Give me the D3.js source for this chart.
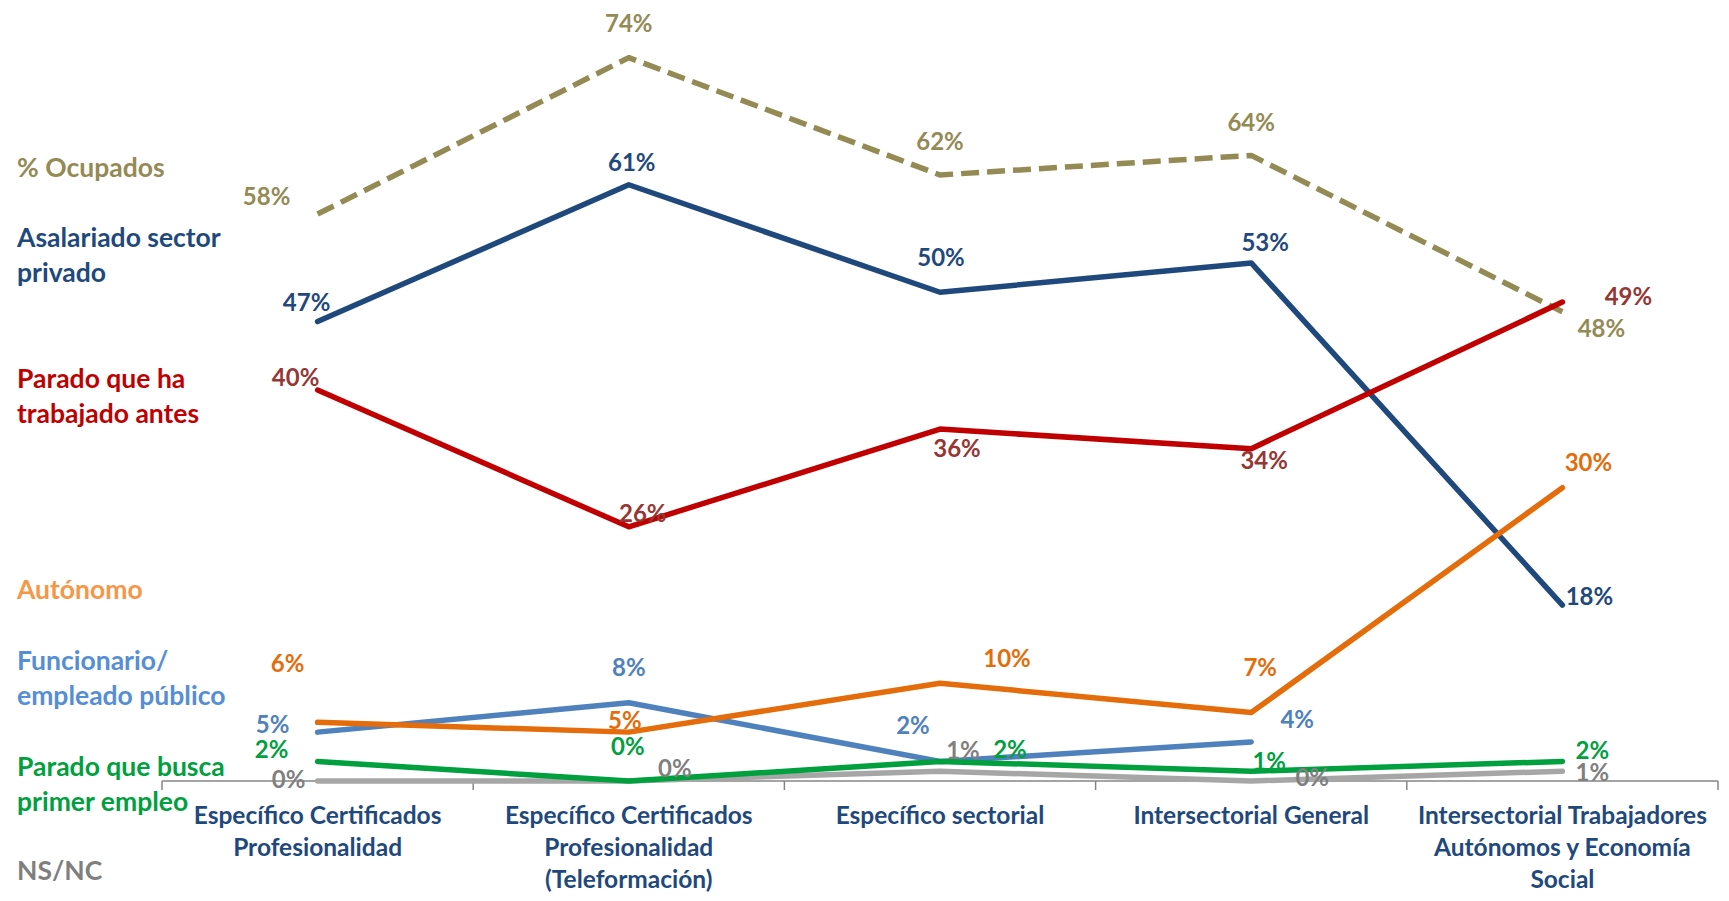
<!DOCTYPE html>
<html>
<head>
<meta charset="utf-8">
<script src="https://cdn.jsdelivr.net/npm/d3@7"></script>
<style>
    body { margin: 0; background: #fff; }
    svg { display: block; font-family: Lato, "Open Sans", sans-serif; font-weight: bold; }
</style>
</head>
<body>
<svg id="chart" width="1729" height="901"></svg>
<script>
// Situación laboral por modalidad de formación (%)

const categoryLines = [
    ['Específico Certificados', 'Profesionalidad'],
    ['Específico Certificados', 'Profesionalidad', '(Teleformación)'],
    ['Específico sectorial'],
    ['Intersectorial General'],
    ['Intersectorial Trabajadores', 'Autónomos y Economía', 'Social']
];

const ocupados = [58, 74, 62, 64, 48];
const asalariado = [47, 61, 50, 53, 18];
const paradoTrabajado = [40, 26, 36, 34, 49];
const autonomo = [6, 5, 10, 7, 30];
const funcionario = [5, 8, 2, 4, null];
const paradoPrimer = [2, 0, 2, 1, 2];
const nsnc = [0, 0, 1, 0, 1];

// Series in legend order (left side text)
const series = [
    { key: 'ocupados', legend: ['% Ocupados'], values: ocupados,
      line: '#948A54', label: '#948A54', legendColor: '#948A54', dashed: true },
    { key: 'asalariado', legend: ['Asalariado sector', 'privado'], values: asalariado,
      line: '#1F497D', label: '#1F497D', legendColor: '#1F497D' },
    { key: 'parado', legend: ['Parado que ha', 'trabajado antes'], values: paradoTrabajado,
      line: '#C00000', label: '#953735', legendColor: '#C00000' },
    { key: 'autonomo', legend: ['Autónomo'], values: autonomo,
      line: '#E46C0A', label: '#E46C0A', legendColor: '#F79646' },
    { key: 'funcionario', legend: ['Funcionario/', 'empleado público'], values: funcionario,
      line: '#4F81BD', label: '#4F81BD', legendColor: '#558ED5' },
    { key: 'primer', legend: ['Parado que busca', 'primer empleo'], values: paradoPrimer,
      line: '#00A03E', label: '#00A03E', legendColor: '#00A03E' },
    { key: 'nsnc', legend: ['NS/NC'], values: nsnc,
      line: '#A6A6A6', label: '#7F7F7F', legendColor: '#7F7F7F' }
];

// where each data label sits relative to its point (like the manual placement in the original)
const labelOffsets = {
    ocupados:    [[-51, -17], [0, -34], [0, -33], [0, -33], [39, 17]],
    asalariado:  [[-11, -19], [3, -22], [1, -35], [14, -20], [27, -8]],
    parado:      [[-22, -12], [14, -13], [17, 19], [13, 12], [66, -5]],
    autonomo:    [[-30, -59], [-4, -12], [67, -25], [9, -45], [26, -25]],
    funcionario: [[-45, -8], [0, -35], [-27, -36], [46, -22], null],
    primer:      [[-46, -12], [-1, -34], [70, -12], [18, -10], [30, -11]],
    nsnc:        [[-29, -1], [46, -12], [23, -21], [61, -3], [30, 1]]
};

// legend text vertical centres
const legendY = {
    ocupados: 168, asalariado: 238, parado: 379, autonomo: 590,
    funcionario: 661, primer: 767, nsnc: 871
};

const svg = d3.select('#chart');
const axisY = 781;

const x = d3.scaleBand()
    .domain(d3.range(categoryLines.length))
    .range([162, 1718])
    .padding(0);

const y = d3.scaleLinear()
    .domain([0, 80])
    .range([axisY, -1]);

const cx = i => x(i) + x.bandwidth() / 2;

// Axis line and tick marks at category boundaries
const axis = svg.append('g').attr('class', 'x-axis');
axis.append('line')
    .attr('x1', x.range()[0])
    .attr('x2', x.range()[1])
    .attr('y1', axisY)
    .attr('y2', axisY)
    .attr('stroke', '#868686')
    .attr('stroke-width', 1.5);

const bounds = x.domain().map(i => x(i)).concat([x.range()[1]]);
axis.selectAll('.tick')
    .data(bounds)
    .enter()
    .append('line')
    .attr('class', 'tick')
    .attr('x1', d => d)
    .attr('x2', d => d)
    .attr('y1', axisY)
    .attr('y2', axisY + 9)
    .attr('stroke', '#868686')
    .attr('stroke-width', 1.5);

// Category labels
const catLabels = axis.selectAll('.cat')
    .data(categoryLines)
    .enter()
    .append('text')
    .attr('class', 'cat')
    .attr('text-anchor', 'middle')
    .attr('fill', '#1F497D')
    .attr('font-size', '24.5px');

catLabels.each(function(lines, i) {
    d3.select(this).selectAll('tspan')
        .data(lines)
        .enter()
        .append('tspan')
        .attr('x', cx(i))
        .attr('y', (d, j) => 815 + j * 32)
        .attr('dy', '0.35em')
        .text(d => d);
});

// Lines (drawing order picked so crossings overlap as in the original)
const drawOrder = ['ocupados', 'asalariado', 'funcionario', 'parado', 'autonomo', 'nsnc', 'primer'];

const line = d3.line()
    .defined(d => d != null)
    .x((d, i) => cx(i))
    .y(d => y(d));

drawOrder.forEach(key => {
    const s = series.find(d => d.key === key);
    svg.append('path')
        .datum(s.values)
        .attr('fill', 'none')
        .attr('stroke', s.line)
        .attr('stroke-width', 5.5)
        .attr('stroke-linejoin', 'round')
        .attr('stroke-linecap', s.dashed ? 'butt' : 'round')
        .attr('stroke-dasharray', s.dashed ? '18,8' : null)
        .attr('d', line);
});

// Data labels
drawOrder.forEach(key => {
    const s = series.find(d => d.key === key);
    const offs = labelOffsets[key];
    svg.append('g')
        .selectAll('text')
        .data(s.values.map((v, i) => ({ v, i })).filter(d => d.v != null))
        .enter()
        .append('text')
        .attr('x', d => cx(d.i) + offs[d.i][0])
        .attr('y', d => y(d.v) + offs[d.i][1])
        .attr('dy', '0.35em')
        .attr('text-anchor', 'middle')
        .attr('fill', s.label)
        .attr('font-size', '24px')
        .text(d => d.v + '%');
});

// Left side legend text
const legend = svg.append('g').attr('class', 'legend');
series.forEach(s => {
    const t = legend.append('text')
        .attr('fill', s.legendColor)
        .attr('font-size', '26.5px');
    s.legend.forEach((ln, j) => {
        t.append('tspan')
            .attr('x', 17)
            .attr('y', legendY[s.key] + j * 35)
            .attr('dy', '0.35em')
            .text(ln);
    });
});
</script>
</body>
</html>
